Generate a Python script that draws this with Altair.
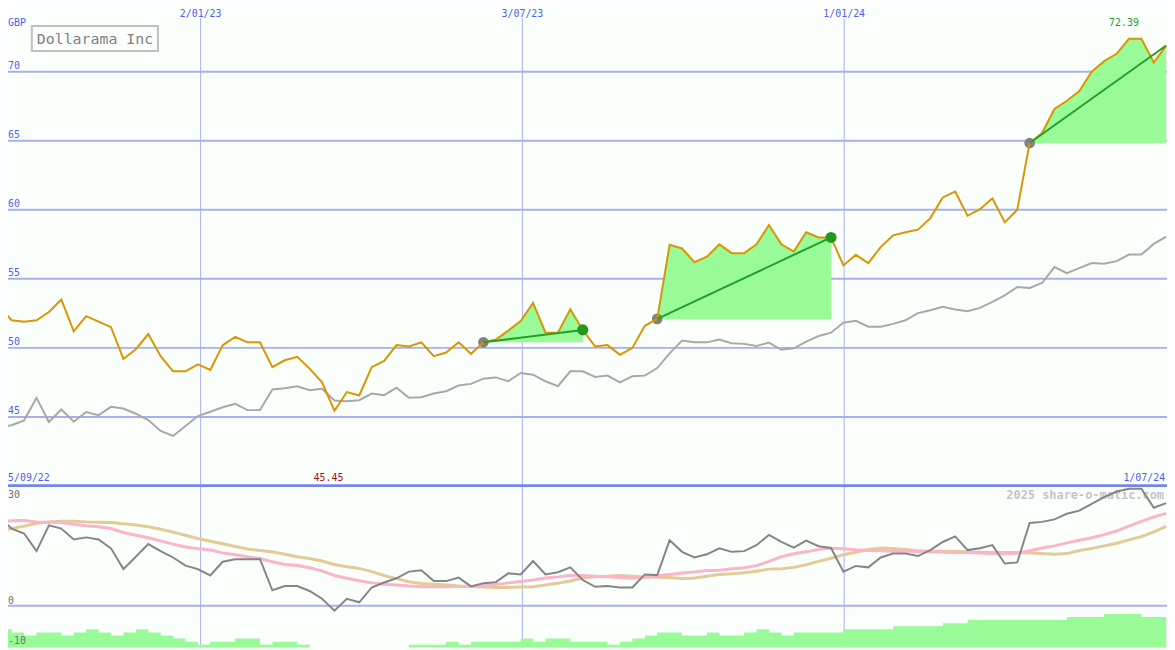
import altair as alt
import pandas as pd

# ---------------- data (weekly, week 0 = 5/09/22 ... week 94 = 1/07/24) ----------------
company = "Dollarama Inc"
currency = "GBP"

price = [53.0, 52.0, 51.9, 52.0, 52.6, 53.5, 51.2, 52.3, 51.9, 51.5,
         49.2, 49.9, 51.0, 49.4, 48.3, 48.3, 48.8, 48.4, 50.2, 50.8,
         50.4, 50.4, 48.6, 49.1, 49.35, 48.5, 47.5, 45.45, 46.8, 46.55,
         48.6, 49.05, 50.2, 50.1, 50.4, 49.4, 49.66, 50.4, 49.57, 50.4,
         50.6, 51.25, 51.94, 53.26, 51.1, 51.1, 52.8, 51.3, 50.1, 50.2,
         49.5, 50.0, 51.6, 52.1, 57.46, 57.2, 56.2, 56.6, 57.5, 56.86,
         56.86, 57.5, 58.9, 57.5, 56.98, 58.37, 58.0, 58.0, 55.97, 56.74,
         56.14, 57.3, 58.15, 58.37, 58.56, 59.4, 60.9, 61.32, 59.57, 60.05,
         60.84, 59.09, 60.0, 64.84, 65.56, 67.3, 67.9, 68.6, 70.0, 70.77,
         71.3, 72.39, 72.39, 70.67, 71.9]

relative = [44.26, 44.4, 44.75, 46.38, 44.63, 45.54, 44.65, 45.35, 45.13, 45.73,
            45.61, 45.23, 44.77, 43.98, 43.62, 44.34, 45.06, 45.37, 45.7, 45.95,
            45.49, 45.49, 46.98, 47.07, 47.22, 46.93, 47.03, 46.19, 46.14, 46.21,
            46.69, 46.57, 47.12, 46.38, 46.43, 46.69, 46.86, 47.27, 47.39, 47.77,
            47.86, 47.58, 48.18, 48.06, 47.58, 47.22, 48.3, 48.3, 47.89, 47.99,
            47.5, 47.94, 47.99, 48.54, 49.6, 50.53, 50.4, 50.4, 50.6, 50.34,
            50.29, 50.14, 50.38, 49.86, 49.97, 50.45, 50.86, 51.1, 51.82, 51.96,
            51.53, 51.53, 51.74, 52.0, 52.52, 52.73, 52.97, 52.78, 52.66, 52.9,
            53.33, 53.81, 54.41, 54.34, 54.7, 55.85, 55.42, 55.78, 56.14, 56.1,
            56.28, 56.76, 56.76, 57.53, 58.06]

momentum = [25.1, 21.9, 20.5, 15.5, 22.8, 21.9, 18.8, 19.4, 18.8, 16.3,
            10.4, 13.9, 17.5, 15.5, 13.7, 11.4, 10.4, 8.6, 12.5, 13.2,
            13.2, 13.2, 4.4, 5.6, 5.6, 4.2, 2.0, -1.4, 2.0, 1.0,
            5.2, 6.6, 7.8, 9.7, 10.1, 7.0, 7.0, 8.0, 5.5, 6.4,
            6.7, 9.2, 8.9, 12.7, 8.9, 9.5, 10.9, 7.3, 5.4, 5.6,
            5.2, 5.2, 8.9, 8.7, 18.6, 15.3, 13.7, 14.6, 16.3, 15.3,
            15.5, 17.2, 20.1, 18.1, 16.5, 18.5, 16.9, 16.4, 9.7, 11.3,
            10.9, 13.7, 14.8, 14.8, 14.1, 15.8, 18.1, 19.7, 15.8, 16.3,
            17.2, 12.0, 12.3, 23.5, 23.8, 24.5, 26.1, 27.0, 28.9, 30.8,
            32.4, 33.2, 33.2, 27.8, 29.1]

ma_fast = [23.9, 24.1, 24.2, 23.8, 23.7, 23.6, 23.1, 22.7, 22.4, 21.9,
           20.8, 20.0, 19.3, 18.4, 17.5, 16.7, 16.2, 15.8, 15.0, 14.5,
           13.9, 13.4, 12.5, 11.7, 11.4, 10.8, 9.9, 8.6, 7.8, 7.1,
           6.5, 6.1, 5.9, 5.6, 5.4, 5.4, 5.4, 5.5, 5.5, 5.7,
           6.0, 6.5, 6.9, 7.3, 7.9, 8.2, 8.6, 8.6, 8.4, 8.2,
           8.0, 7.8, 8.0, 8.5, 8.9, 9.3, 9.6, 10.0, 10.1, 10.5,
           10.8, 11.4, 12.6, 13.9, 14.75, 15.3, 16.0, 16.35, 16.2, 15.9,
           15.7, 15.6, 15.5, 15.5, 15.4, 15.3, 15.2, 15.1, 15.1, 15.0,
           14.8, 14.75, 14.9, 15.6, 16.4, 17.0, 17.85, 18.6, 19.3, 20.2,
           21.2, 22.6, 23.95, 25.2, 26.2]

ma_slow = [21.3, 21.9, 22.6, 23.4, 23.8, 24.0, 24.0, 23.8, 23.7, 23.6,
           23.3, 22.9, 22.4, 21.7, 20.9, 20.0, 19.1, 18.3, 17.6, 16.8,
           16.1, 15.7, 15.3, 14.6, 13.9, 13.4, 12.7, 11.7, 11.1, 10.6,
           9.7, 8.6, 7.7, 6.8, 6.3, 6.1, 5.9, 5.6, 5.5, 5.3,
           5.2, 5.2, 5.3, 5.4, 5.9, 6.4, 7.05, 7.9, 8.2, 8.4,
           8.6, 8.4, 8.2, 8.1, 8.0, 7.7, 7.9, 8.4, 8.9, 9.1,
           9.4, 9.8, 10.4, 10.5, 10.9, 11.65, 12.6, 13.5, 14.5, 15.2,
           16.0, 16.4, 16.25, 16.0, 15.6, 15.5, 15.5, 15.5, 15.3, 15.2,
           15.1, 15.1, 15.1, 15.0, 14.8, 14.65, 14.8, 15.7, 16.25, 17.0,
           17.75, 18.7, 19.6, 20.95, 22.5]

volume = [6, 5, 4, 5, 5, 4, 5, 6, 5, 4,
          5, 6, 5, 4, 3, 2, 1, 2, 2, 3,
          3, 1, 2, 2, 1, 0, 0, 0, 0, 0,
          0, 0, 0, 1, 1, 1, 2, 1, 2, 2,
          2, 2, 3, 2, 3, 3, 2, 2, 2, 1,
          2, 3, 4, 5, 5, 4, 4, 5, 4, 4,
          5, 6, 5, 4, 5, 5, 5, 5, 6, 6,
          6, 6, 7, 7, 7, 7, 8, 8, 9, 9,
          9, 9, 9, 9, 9, 9, 10, 10, 10, 11,
          11, 11, 10, 10, 10]

price_ticks = [45, 50, 55, 60, 65, 70]
date_tick_labels = ["2/01/23", "3/07/23", "1/01/24"]
date_tick_weeks = [16.22, 42.14, 68.06]
first_date_label = "5/09/22"
last_date_label = "1/07/24"
ind_ticks = [30, 0]
ind_low_tick = [-10]

region_start = [39, 53, 83]
region_end = [47, 67, 94]
region_end_marker = [True, True, False]
watermark = "2025 share-o-matic.com"

# ---------------- layout ----------------
W, H = 1167, 642
FONT = "DejaVu Sans Mono"
BG = "#fbfffb"
BLUE = "#5060f0"
GRID = "#a6b0f0"

x_dom = [8.8 / 12.5, (W + 8.8) / 12.5]
main_dom = [70 - (H - 62) / 13.9, 70 + 62 / 13.9]
ind_dom = [(599.7 - H) / 3.55, 599.7 / 3.55]
vol_dom = [0, H / 3.1]


def sx(f):
    return alt.X(f"{f}:Q", scale=alt.Scale(domain=x_dom, nice=False, zero=False), axis=None)


def sy(f, dom):
    return alt.Y(f"{f}:Q", scale=alt.Scale(domain=dom, nice=False, zero=False), axis=None)


n = len(price)
df = pd.DataFrame({
    "week": list(range(n)),
    "price": price,
    "relative": relative,
    "momentum": momentum,
    "ma_fast": ma_fast,
    "ma_slow": ma_slow,
    "volume": volume,
})

area_rows, trend_rows, start_rows, end_rows = [], [], [], []
for r, (s, e, mk) in enumerate(zip(region_start, region_end, region_end_marker)):
    for w in range(s, e + 1):
        area_rows.append({"region": r, "week": w, "price": price[w], "base": price[s]})
    trend_rows.append({"region": r, "week": s, "price": price[s]})
    trend_rows.append({"region": r, "week": e, "price": price[e]})
    start_rows.append({"week": s, "price": price[s]})
    if mk:
        end_rows.append({"week": e, "price": price[e]})
area_df = pd.DataFrame(area_rows)
trend_df = pd.DataFrame(trend_rows)
start_df = pd.DataFrame(start_rows)
end_df = pd.DataFrame(end_rows)

imin = price.index(min(price))
imax = price.index(max(price))
minmax_df = pd.DataFrame({"week": [imin], "price": [min(price)], "label": [f"{min(price):.2f}"]})
max_df = pd.DataFrame({"week": [imax], "price": [max(price)], "label": [f"{max(price):.2f}"]})

base = alt.Chart(df)

grid_h = alt.Chart(pd.DataFrame({"v": price_ticks})).mark_rule(color=GRID, strokeWidth=2).encode(
    y=sy("v", main_dom), x=alt.value(0), x2=alt.value(W))
grid_v = alt.Chart(pd.DataFrame({"week": date_tick_weeks, "label": date_tick_labels})).mark_rule(
    color="#a8b0f2", strokeWidth=1).encode(x=sx("week"), y=alt.value(8), y2=alt.value(H))
zero_rule = alt.Chart(pd.DataFrame({"v": [0]})).mark_rule(color=GRID, strokeWidth=2).encode(
    y=sy("v", ind_dom), x=alt.value(0), x2=alt.value(W))
sep_rule = alt.Chart(pd.DataFrame({"v": [0]})).mark_rule(color="#7585ea", strokeWidth=3).encode(
    y=alt.value(478.7), x=alt.value(0), x2=alt.value(W))

vol_area = base.mark_area(interpolate="step-after", color="#98fb98", clip=True).encode(
    x=sx("week"), y=sy("volume", vol_dom))
green_area = alt.Chart(area_df).mark_area(color="#98fb98", clip=True).encode(
    x=sx("week"), y=sy("price", main_dom), y2="base:Q", detail="region:N")
rel_line = base.mark_line(color="#a8a8a8", strokeWidth=2, clip=True).encode(
    x=sx("week"), y=sy("relative", main_dom))
wm = alt.Chart(pd.DataFrame({"t": [watermark]})).mark_text(
    align="right", baseline="middle", font=FONT, fontSize=12, fontWeight="bold", color="#c4c4c4").encode(
    x=alt.value(1164), y=alt.value(488), text="t:N")
slow_line = base.mark_line(color="#e4ca96", strokeWidth=3, clip=True).encode(
    x=sx("week"), y=sy("ma_slow", ind_dom))
fast_line = base.mark_line(color="#fbb4c8", strokeWidth=3, clip=True).encode(
    x=sx("week"), y=sy("ma_fast", ind_dom))
mom_line = base.mark_line(color="#858585", strokeWidth=2, clip=True).encode(
    x=sx("week"), y=sy("momentum", ind_dom))
start_dots = alt.Chart(start_df).mark_circle(color="#808080", size=115, opacity=1).encode(
    x=sx("week"), y=sy("price", main_dom))
price_line = base.mark_line(color="#db9500", strokeWidth=2, clip=True).encode(
    x=sx("week"), y=sy("price", main_dom))
trend = alt.Chart(trend_df).mark_line(color="#22a022", strokeWidth=2, clip=True).encode(
    x=sx("week"), y=sy("price", main_dom), detail="region:N")
end_dots = alt.Chart(end_df).mark_circle(color="#1f9a1f", size=125, opacity=1).encode(
    x=sx("week"), y=sy("price", main_dom))

title_box = alt.Chart(pd.DataFrame({"t": [company]})).mark_rect(
    fill=BG, stroke="#c0c0c0", strokeWidth=2).encode(
    x=alt.value(24), x2=alt.value(151), y=alt.value(16), y2=alt.value(41))
title_txt = alt.Chart(pd.DataFrame({"t": [company]})).mark_text(
    align="left", baseline="middle", font=FONT, fontSize=15, color="#808080").encode(
    x=alt.value(29), y=alt.value(29), text="t:N")
cur_txt = alt.Chart(pd.DataFrame({"t": [currency]})).mark_text(
    align="left", baseline="middle", font=FONT, fontSize=10, color=BLUE).encode(
    x=alt.value(0), y=alt.value(13), text="t:N")
tick_txt = alt.Chart(pd.DataFrame({"v": price_ticks})).mark_text(
    align="left", baseline="bottom", font=FONT, fontSize=10, color=BLUE, dy=-1).encode(
    x=alt.value(0), y=sy("v", main_dom), text="v:N")
date_txt = alt.Chart(pd.DataFrame({"week": date_tick_weeks, "label": date_tick_labels})).mark_text(
    align="center", baseline="middle", font=FONT, fontSize=10, color=BLUE).encode(
    x=sx("week"), y=alt.value(4), text="label:N")
first_txt = alt.Chart(pd.DataFrame({"t": [first_date_label]})).mark_text(
    align="left", baseline="middle", font=FONT, fontSize=10, color=BLUE).encode(
    x=alt.value(0), y=alt.value(471), text="t:N")
last_txt = alt.Chart(pd.DataFrame({"week": [n - 1], "t": [last_date_label]})).mark_text(
    align="right", baseline="middle", font=FONT, fontSize=10, color=BLUE, dx=-1).encode(
    x=sx("week"), y=alt.value(471), text="t:N")
min_txt = alt.Chart(minmax_df).mark_text(
    align="center", baseline="middle", font=FONT, fontSize=10, color="#a01414", dx=-6).encode(
    x=sx("week"), y=alt.value(471), text="label:N")
max_txt = alt.Chart(max_df).mark_text(
    align="center", baseline="middle", font=FONT, fontSize=10, color="#22a022", dx=-5, dy=-16).encode(
    x=sx("week"), y=sy("price", main_dom), text="label:N")
ind_txt = alt.Chart(pd.DataFrame({"v": ind_ticks})).mark_text(
    align="left", baseline="bottom", font=FONT, fontSize=10, color="#707070").encode(
    x=alt.value(0), y=sy("v", ind_dom), text="v:N")
ind_low_txt = alt.Chart(pd.DataFrame({"v": ind_low_tick})).mark_text(
    align="left", baseline="bottom", font=FONT, fontSize=10, color="#707070", dy=5).encode(
    x=alt.value(0), y=sy("v", ind_dom), text="v:N")

chart = alt.layer(
    grid_h, grid_v, zero_rule, sep_rule, vol_area, green_area, rel_line, wm,
    slow_line, fast_line, mom_line, start_dots, price_line, trend, end_dots,
    title_box, title_txt, cur_txt, tick_txt, date_txt, first_txt, last_txt,
    min_txt, max_txt, ind_txt, ind_low_txt,
).resolve_scale(y="independent").properties(
    width=W, height=H, autosize=alt.AutoSizeParams(type="none"), padding=0, background=BG
).configure_view(strokeWidth=0)

chart.save("out.html", embed_options={"renderer": "svg", "actions": False})
